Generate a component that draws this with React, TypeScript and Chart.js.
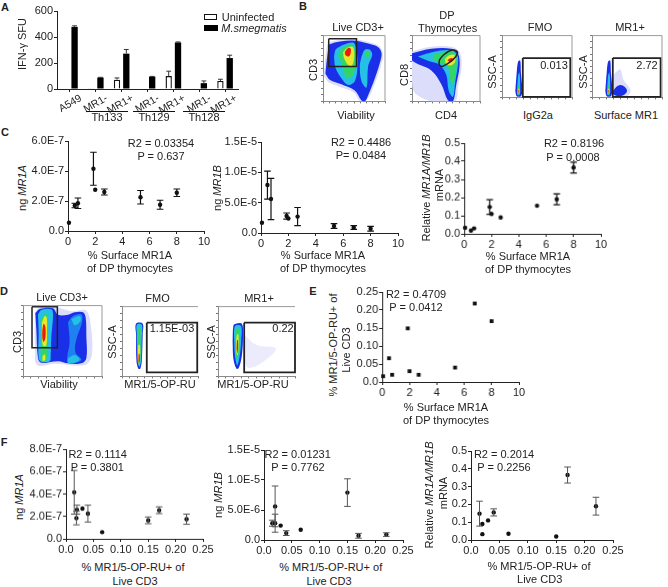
import React, { useEffect, useRef } from "react";
import { Chart, registerables } from "chart.js";

Chart.register(...registerables);

// ---------- Panel A ----------
const barCategories = ["A549", "MR1-", "MR1+", "MR1-", "MR1+", "MR1-", "MR1+"];
const uninfected = [0, 5, 72, 0, 100, 0, 62];
const uninfectedErr = [0, 0, 13, 0, 37, 0, 13];
const smegmatis = [478, 88, 272, 95, 358, 45, 238];
const smegmatisErr = [8, 2, 32, 2, 4, 17, 22];
const barTicks = [0, 200, 400, 600];

// ---------- Panel C ----------
const c1x = [0.07, 0.5, 0.73, 1.87, 2.0, 2.67, 5.33, 6.77, 8.0];
const c1y = [0.55e-7, 1.7e-7, 1.85e-7, 4.15e-7, 2.75e-7, 2.6e-7, 2.25e-7, 1.75e-7, 2.55e-7];
const c1e = [0, 0.15e-7, 0.35e-7, 1.1e-7, 0, 0.2e-7, 0.45e-7, 0.3e-7, 0.25e-7];
const c2x = [0.07, 0.47, 0.73, 1.87, 2.0, 2.67, 5.33, 6.77, 8.0];
const c2y = [1.7e-6, 7.9e-6, 5.6e-6, 2.8e-6, 2.4e-6, 2.7e-6, 1.15e-6, 0.9e-6, 0.7e-6];
const c2e = [0, 2.3e-6, 3.4e-6, 0.5e-6, 0, 1.5e-6, 0.4e-6, 0.3e-6, 0.4e-6];
const c3x = [0.07, 0.5, 0.73, 1.87, 2.0, 2.67, 5.33, 6.77, 8.0];
const c3y = [0.033, 0.018, 0.03, 0.148, 0.11, 0.09, 0.155, 0.19, 0.365];
const c3e = [0, 0, 0, 0.04, 0, 0, 0, 0.03, 0.03];

// ---------- Panel E ----------
const ex = [0.07, 0.5, 0.73, 1.87, 2.0, 2.67, 5.33, 6.77, 8.0];
const ey = [0.016, 0.066, 0.02, 0.149, 0.03, 0.02, 0.04, 0.218, 0.169];

// ---------- Panel F ----------
const f1x = [0.015, 0.02, 0.019, 0.03, 0.04, 0.066, 0.15, 0.17, 0.22];
const f1y = [4.15e-7, 2.6e-7, 1.85e-7, 2.7e-7, 2.25e-7, 0.6e-7, 1.65e-7, 2.55e-7, 1.75e-7];
const f1e = [1.95e-7, 0.4e-7, 0.6e-7, 0, 0.75e-7, 0, 0.3e-7, 0.3e-7, 0.45e-7];
const f2x = [0.015, 0.02, 0.02, 0.03, 0.04, 0.066, 0.15, 0.17, 0.22];
const f2y = [2.8e-6, 5.6e-6, 2.8e-6, 2.4e-6, 1.15e-6, 1.7e-6, 7.9e-6, 0.7e-6, 0.9e-6];
const f2e = [0.5e-6, 3.4e-6, 1.5e-6, 0, 0.4e-6, 0, 2.3e-6, 0.4e-6, 0.3e-6];
const f3x = [0.015, 0.02, 0.02, 0.03, 0.04, 0.066, 0.15, 0.17, 0.22];
const f3y = [0.148, 0.09, 0.033, 0.11, 0.155, 0.035, 0.02, 0.365, 0.19];
const f3e = [0.07, 0, 0, 0, 0.02, 0, 0, 0.045, 0.05];

// ---------- Tick values and labels ----------
const pctTicks = [0, 2, 4, 6, 8, 10];
const pctLabels = ["0", "2", "4", "6", "8", "10"];
const mr15Ticks = [0, 0.05, 0.1, 0.15, 0.2, 0.25];
const mr15Labels = ["0.0", "0.05", "0.10", "0.15", "0.20", "0.25"];
const yTicks6e7 = [0, 2e-7, 4e-7, 6e-7];
const yLabels6e7 = ["0.0", "2.0E-7", "4.0E-7", "6.0E-7"];
const yTicks8e7 = [0, 2e-7, 4e-7, 6e-7, 8e-7];
const yLabels8e7 = ["0.0", "2.0E-7", "4.0E-7", "6.0E-7", "8.0E-7"];
const yTicks15e5 = [0, 5e-6, 1e-5, 1.5e-5];
const yLabels15e5 = ["0.0", "5.0E-6", "1.0E-5", "1.5E-5"];
const yTicksRatio = [0, 0.1, 0.2, 0.3, 0.4, 0.5];
const yLabelsRatio = ["0.0", "0.1", "0.2", "0.3", "0.4", "0.5"];
const yTicksPct = [0, 0.05, 0.1, 0.15, 0.2, 0.25];
const yLabelsPct = ["0.0", "0.05", "0.10", "0.15", "0.20", "0.25"];

// ---------- Flow cytometry density contours, estimated in axis units (0-100) ----------
const PALE = "#dcdcfb", BLUE = "#1a30e8", MID = "#1f80f0", CYAN = "#25c0e6",
  GREEN = "#35d468", YELLOW = "#e6e828", RED = "#ea1c12";
type Pt = number[];
const b1Blue: Pt[] = [[3.8,42.3],[8.1,77.6],[10.8,87],[45.9,92.6],[72.9,87.9],[89.1,82.3],[94.5,72.9],[91.8,58.8],[83.7,35.3],[72.9,9.4],[67.5,0],[62.1,1.4],[51.3,16.5],[29.7,25.9],[10.8,32.9]];
const b1Pale: Pt[] = [[1,40],[6,82],[10,90],[46,95],[75,90],[91,84],[97,72],[94,56],[86,33],[75,8],[68,0],[60,0],[49,14],[28,22],[9,29]];
const b1CyanL: Pt[] = [[17.8,68.2],[21.6,79.9],[48.6,89.3],[54,77.6],[55.6,54],[51.3,30.6],[40.5,25],[29.7,35.3],[20,51.7]];
const b1CyanR: Pt[] = [[62.1,68.2],[67.5,78.5],[75.6,78.5],[79.4,70.5],[72.9,54],[70.2,21.2],[62.1,30.6],[59.4,54]];
const b1GreenL: Pt[] = [[24.3,70.5],[29.7,79.9],[45.9,86.9],[51.3,77.6],[52.4,58.8],[48.6,40],[37.8,35.3],[32.4,51.7]];
const b1GreenR: Pt[] = [[66.4,72.9],[71.8,77.6],[75.6,72.9],[71.8,65.8]];
const b1Yellow: Pt[] = [[32.4,75.2],[40.5,82.3],[48.6,82.3],[50.2,65.8],[45.9,53],[39.4,56.4],[34,65.8]];
const b1Red: Pt[] = [[35.1,75.2],[40.5,81.3],[44.8,79.9],[43.7,70.5],[40.5,68.2],[36.2,70.5]];
const b1Gate: Pt[] = [[9.2,95.4],[54,95.4],[54,53.1],[9.2,53.1]];

const b2Pale: Pt[] = [[0,76],[28,83],[58,83],[70,75],[73,54],[68,25],[63,0],[30,0],[5,12],[0,30]];
const b2Blue: Pt[] = [[0,73.3],[28.4,79.9],[57.8,79.9],[67.6,72.9],[70,54],[65.2,25.9],[60.3,0],[52.9,1.4],[43.1,25.9],[28.4,47],[0,62]];
const b2Cyan: Pt[] = [[8.8,68.2],[30.9,75.2],[57.8,77.6],[66.6,70.5],[67.6,56.4],[63.7,30.6],[60.3,7],[53.9,16.5],[50.5,40],[40.7,55.5],[23.5,61.6]];
const b2Green: Pt[] = [[30.9,70.5],[43.1,73.8],[60.3,75.2],[65.2,68.2],[65.2,49.4],[60.3,25.9],[55.4,35.3],[52.9,51.7],[40.7,58.8],[30.9,64.9]];
const b2Yellow: Pt[] = [[48,64.4],[55.4,70.5],[62.7,70.5],[63.7,61.1],[57.8,55],[50.5,56.4]];
const b2Red: Pt[] = [[51.9,62.7],[57.8,65.8],[60.8,63.5],[56.8,59.7]];
const b2Gate: Pt[] = [[39.7,56.4],[40.7,63.5],[48,72],[57.8,77.6],[65.2,76.7],[66.6,72],[60.3,63.5],[50.5,56.4],[43.1,53]];

const b3Blue: Pt[] = [[19,10],[21,40],[23,58],[26,60],[27,40],[29,12],[27,2],[21,2]];
const b3Cyan: Pt[] = [[21.5,8],[23,35],[25,40],[26,12],[25,4],[22,4]];
const b3Green: Pt[] = [[22,6],[23,20],[25,20],[25.5,8],[24,5]];
const b3Yellow: Pt[] = [[22.8,9],[23.5,14],[24.5,14],[24.8,9],[23.8,7]];
const b3Red: Pt[] = [[23.2,9],[23.7,12],[24.3,12],[24.4,9],[23.8,8]];
const b3Gate: Pt[] = [[29.7,63.7],[97.6,63.7],[97.6,0.8],[29.7,0.8]];

const b4Pale: Pt[] = [[30,5],[28,30],[40,45],[45,28],[55,12],[50,2]];
const b4Blob: Pt[] = [[29,8],[33,15],[40,20],[47,17],[50,10],[44,3],[33,3]];
const b4Gate: Pt[] = [[29.7,63.7],[98,63.7],[98,0.8],[29.7,0.8]];

const d1Pale: Pt[] = [[15,90],[20,97],[40,98],[62,92],[80,93],[86,70],[87,30],[78,16],[40,18],[18,16],[15,40]];
const d1Blue: Pt[] = [[15.6,89.6],[21.1,95.3],[38,96.2],[44.3,87],[57,87],[65.4,90.5],[76,90.5],[79.4,82.6],[80.2,56.4],[80.2,25.7],[73.9,18.4],[57,18.4],[44.3,21.4],[23.2,19.3],[19,25.7],[16.9,65.4]];
const d1CyanL: Pt[] = [[19,87.4],[23.2,93.7],[35.9,94.8],[38,87],[35.9,56.4],[35,30],[33.8,21.4],[23.2,20.6],[19.8,26.3],[19.8,61]];
const d1MidR: Pt[] = [[57,76.4],[63,85],[73.9,87.4],[74.7,76.4],[67.5,52.2],[66.2,34.6],[73.9,23.7],[67.5,19.3],[57,19.3],[56.1,28.1],[59,47.8]];
const d1CyanTop: Pt[] = [[61.2,80.9],[71.7,85.3],[73,78.7],[65.4,72.2]];
const d1CyanBot: Pt[] = [[57,25.9],[65.4,30.3],[71.7,23.7],[65.4,19.3],[57,19.3]];
const d1Green: Pt[] = [[22.4,78.6],[26.6,87.4],[30.8,87.4],[31.6,65.4],[30.8,43.5],[29.5,21.4],[24,21.4],[22.4,34.6],[23.2,56.4]];
const d1Yellow: Pt[] = [[24,76.5],[27.4,85],[30,83],[30.4,65.4],[29.5,43.5],[25.3,43.5],[24,56.4]];
const d1YellowBot: Pt[] = [[24.5,28],[27.4,31.2],[28.3,23.7],[25.3,21.5]];
const d1Red: Pt[] = [[24.5,65.4],[26.1,74.2],[28.3,69.8],[28.3,54.4],[26.1,48.7],[24.5,54.4]];
const d1Gate: Pt[] = [[11.4,98.3],[43.5,98.3],[43.5,40.4],[11.4,40.4]];

const d2Blue: Pt[] = [[18.5,60],[18.5,75.6],[27.2,75.6],[27.2,60],[26,22],[24,11],[21.5,11],[19,22]];
const d2Cyan: Pt[] = [[19.5,60],[19.5,74],[26,74],[26,55],[25,22],[23,14],[21,18],[20,30]];
const d2Green: Pt[] = [[20.5,50],[20.5,70],[24,70],[24.5,50],[24,22],[22,16],[21,25]];
const d2Yellow: Pt[] = [[21,27],[21.5,45],[23.5,45],[23.8,27],[22.5,18]];
const d2Red: Pt[] = [[21.7,22],[22,32],[23.2,32],[23.4,22],[22.5,19]];
const d2Gate: Pt[] = [[32.6,76.9],[99,76.9],[99,5.8],[32.6,5.8]];

const d3Pale: Pt[] = [[34,60],[50,45],[75,40],[60,22],[40,12],[34,25]];
const d3Blue: Pt[] = [[19,50],[20,73],[23,75.6],[31,75.6],[32.5,60],[31,30],[27,12],[24,11],[20,25]];
const d3Cyan: Pt[] = [[21,50],[22,72],[30,72],[30,50],[28,28],[25,16],[22,30]];
const d3Green: Pt[] = [[22.5,50],[23.5,68],[28,68],[28,45],[26.5,30],[24.5,25],[23,35]];
const d3Yellow: Pt[] = [[23.5,45],[24.5,60],[26.5,60],[26.5,42],[25.5,30],[24,33]];
const d3Red: Pt[] = [[24.2,40],[24.8,52],[25.8,52],[26,40],[25,33]];
const d3Gate: Pt[] = [[34,76.9],[100,76.9],[100,5.8],[34,5.8]];

const flowTicks = [0, 10, 20, 30, 40, 50, 60, 70, 80, 90, 100];

// ---------- Helpers ----------
const FONT = "'Liberation Sans', Arial, sans-serif";
const INK = "#222";

const errorBars = {
  id: "errorBars",
  afterDatasetsDraw(chart: any) {
    const ctx = chart.ctx;
    const y = chart.scales.y;
    chart.data.datasets.forEach((ds: any, i: number) => {
      if (!ds.errors) return;
      const meta = chart.getDatasetMeta(i);
      ctx.save();
      ctx.strokeStyle = ds.errColor || "#111";
      ctx.lineWidth = ds.errWidth || 1.2;
      ds.errors.forEach((e: number, j: number) => {
        if (!e) return;
        const el = meta.data[j];
        const raw = ds.data[j];
        const v = typeof raw === "number" ? raw : raw.y;
        const top = y.getPixelForValue(v + e);
        const bot = ds.upOnly ? y.getPixelForValue(v) : y.getPixelForValue(v - e);
        const cap = ds.capHalf || 3.3;
        ctx.beginPath();
        ctx.moveTo(el.x, top);
        ctx.lineTo(el.x, bot);
        ctx.moveTo(el.x - cap, top);
        ctx.lineTo(el.x + cap, top);
        if (!ds.upOnly) {
          ctx.moveTo(el.x - cap, bot);
          ctx.lineTo(el.x + cap, bot);
        }
        ctx.stroke();
      });
      ctx.restore();
    });
  },
};

const framePlugin = (openRight: boolean) => ({
  id: "flowFrame",
  afterDraw(chart: any) {
    const { ctx, chartArea: a } = chart;
    ctx.save();
    ctx.strokeStyle = "#9a9a9a";
    ctx.lineWidth = 1;
    ctx.beginPath();
    ctx.moveTo(a.left, a.top);
    ctx.lineTo(a.right, a.top);
    if (!openRight) ctx.lineTo(a.right, a.bottom);
    ctx.stroke();
    ctx.restore();
  },
});

type Box = { frame: number[]; ml?: number; mt?: number; mr?: number; mb?: number };

const boxOf = (b: Box) => {
  const ml = b.ml ?? 40, mt = b.mt ?? 10, mr = b.mr ?? 16, mb = b.mb ?? 20;
  const [L, T, R, B] = b.frame;
  return { ml, mt, mr, mb, left: L - ml, top: T - mt, width: R - L + ml + mr, height: B - T + mt + mb };
};

const axisBase = (values: number[], labels: string[] | null, min: number, max: number, side: "x" | "y", fit: number) => ({
  type: "linear",
  min,
  max,
  afterBuildTicks: (s: any) => {
    s.ticks = values.map((v) => ({ value: v }));
  },
  afterFit: (s: any) => {
    if (side === "x") s.height = fit;
    else s.width = fit;
  },
  grid: { display: true, drawOnChartArea: false, drawTicks: true, tickLength: 3, tickColor: INK, lineWidth: 1 },
  border: { display: true, color: INK, width: 1 },
  ticks: {
    autoSkip: false,
    padding: 1,
    maxRotation: 0,
    minRotation: 0,
    color: INK,
    font: { family: FONT, size: 11 },
    callback: (_v: any, i: number) => (labels ? labels[i] : ""),
  },
});

const scatterConfig = (b: Box, xs: number[], ys: number[], es: number[] | null, xV: number[], xL: string[], yV: number[], yL: string[], opts: any = {}) => {
  const m = boxOf(b);
  return {
    type: "scatter",
    data: {
      datasets: [
        {
          data: xs.map((x, i) => ({ x, y: ys[i] })),
          errors: es,
          backgroundColor: "#111",
          borderColor: "#111",
          pointBorderWidth: 0,
          pointRadius: opts.radius ?? 2.2,
          pointStyle: opts.style ?? "circle",
          errColor: opts.errColor,
          errWidth: opts.errWidth,
          capHalf: opts.capHalf,
          clip: false,
        },
      ],
    },
    options: {
      responsive: false,
      animation: false,
      layout: { padding: { left: 0, top: m.mt, right: m.mr, bottom: 0 } },
      plugins: { legend: { display: false }, tooltip: { enabled: false } },
      scales: {
        x: axisBase(xV, xL, xV[0], xV[xV.length - 1], "x", m.mb),
        y: axisBase(yV, yL, yV[0], yV[yV.length - 1], "y", m.ml),
      },
    },
    plugins: [errorBars],
  };
};

const fillLayer = (pts: Pt[], color: string, tension = 0.35) => ({
  data: [...pts, pts[0]].map(([x, y]) => ({ x, y })),
  backgroundColor: color,
  borderColor: color,
  borderWidth: 0,
  fill: "shape",
  tension,
  pointRadius: 0,
  clip: 0,
});

const gateLayer = (pts: Pt[], tension = 0, width = 1.5) => ({
  data: [...pts, pts[0]].map(([x, y]) => ({ x, y })),
  borderColor: "#222",
  borderWidth: width,
  fill: false,
  tension,
  pointRadius: 0,
  clip: false,
});

const flowConfig = (b: Box, layers: any[], openRight = false) => {
  const m = boxOf(b);
  const tick = (side: "x" | "y", fit: number) => {
    const a: any = axisBase(flowTicks, null, 0, 100, side, fit);
    a.grid.tickLength = 2;
    a.grid.tickColor = "#777";
    a.border.color = "#8a8a8a";
    return a;
  };
  return {
    type: "line",
    data: { datasets: [...layers].reverse() },
    options: {
      responsive: false,
      animation: false,
      layout: { padding: { left: 0, top: m.mt, right: m.mr, bottom: 0 } },
      plugins: { legend: { display: false }, tooltip: { enabled: false } },
      scales: { x: tick("x", m.mb), y: tick("y", m.ml) },
    },
    plugins: [framePlugin(openRight)],
  };
};

const sq = { ml: 8, mt: 4, mr: 4, mb: 6 };

const barBox: Box = { frame: [56.5, 11, 238, 89], ml: 36, mt: 8, mr: 8, mb: 30 };
const barM = boxOf(barBox);
const barAxisY: any = axisBase(barTicks, barTicks.map(String), 0, 600, "y", barM.ml);

const barConfig = {
  type: "bar",
  data: {
    labels: barCategories,
    datasets: [
      {
        label: "Uninfected",
        data: uninfected,
        errors: uninfectedErr,
        upOnly: true,
        capHalf: 2.4,
        errWidth: 1,
        errColor: "#333",
        backgroundColor: "#fff",
        borderColor: "#111",
        borderWidth: 1.4,
        barPercentage: 0.68,
        categoryPercentage: 0.72,
      },
      {
        label: "M.smegmatis",
        data: smegmatis,
        errors: smegmatisErr,
        upOnly: true,
        capHalf: 2.4,
        errWidth: 1,
        errColor: "#333",
        backgroundColor: "#000",
        borderColor: "#000",
        borderWidth: 0,
        barPercentage: 0.68,
        categoryPercentage: 0.72,
      },
    ],
  },
  options: {
    responsive: false,
    animation: false,
    layout: { padding: { left: 0, top: barM.mt, right: barM.mr, bottom: 0 } },
    plugins: { legend: { display: false }, tooltip: { enabled: false } },
    scales: {
      x: {
        type: "category",
        afterFit: (s: any) => {
          s.height = barM.mb;
        },
        grid: { display: true, drawOnChartArea: false, drawTicks: true, tickLength: 3, tickColor: INK, offset: false },
        border: { display: true, color: INK, width: 1 },
        ticks: { autoSkip: false, minRotation: 30, maxRotation: 30, padding: 0, labelOffset: 11, color: INK, font: { family: FONT, size: 10.5 } },
      },
      y: barAxisY,
    },
  },
  plugins: [errorBars],
};

const charts: { box: Box; cfg: any; blur?: boolean }[] = [];
const add = (box: Box, cfg: any, blur = false) => charts.push({ box, cfg, blur });

add(barBox, barConfig);

// B
const fb1: Box = { frame: [323, 32, 385, 103], ...sq };
add(fb1, flowConfig(fb1, [fillLayer(b1Pale, PALE), fillLayer(b1Blue, BLUE), fillLayer(b1CyanL, CYAN), fillLayer(b1CyanR, CYAN), fillLayer(b1GreenL, GREEN), fillLayer(b1GreenR, GREEN), fillLayer(b1Yellow, YELLOW), fillLayer(b1Red, RED), gateLayer(b1Gate)]), true);
const fb2: Box = { frame: [412, 32, 480, 103], ...sq };
add(fb2, flowConfig(fb2, [fillLayer(b2Pale, PALE), fillLayer(b2Blue, BLUE), fillLayer(b2Cyan, CYAN), fillLayer(b2Green, GREEN), fillLayer(b2Yellow, YELLOW), fillLayer(b2Red, RED), gateLayer(b2Gate, 0.45)]), true);
const fb3: Box = { frame: [502, 32, 572, 99], ...sq };
add(fb3, flowConfig(fb3, [fillLayer(b3Blue, BLUE), fillLayer(b3Cyan, CYAN), fillLayer(b3Green, GREEN), fillLayer(b3Yellow, YELLOW), fillLayer(b3Red, RED), gateLayer(b3Gate, 0, 1.8)]), true);
const fb4: Box = { frame: [592, 32, 662, 99], ...sq };
add(fb4, flowConfig(fb4, [fillLayer(b4Pale, PALE), fillLayer(b3Blue, BLUE), fillLayer(b4Blob, BLUE), fillLayer(b3Cyan, CYAN), fillLayer(b3Green, GREEN), fillLayer(b3Yellow, YELLOW), fillLayer(b3Red, RED), gateLayer(b4Gate, 0, 1.8)]), true);

// C
add({ frame: [68, 140.7, 204, 231] }, scatterConfig({ frame: [68, 140.7, 204, 231] }, c1x, c1y, c1e, pctTicks, pctLabels, yTicks6e7, yLabels6e7));
add({ frame: [260.7, 141.7, 398, 233] }, scatterConfig({ frame: [260.7, 141.7, 398, 233] }, c2x, c2y, c2e, pctTicks, pctLabels, yTicks15e5, yLabels15e5));
add({ frame: [464.3, 143.3, 601.3, 234], ml: 22 }, scatterConfig({ frame: [464.3, 143.3, 601.3, 234], ml: 22 }, c3x, c3y, c3e, pctTicks, pctLabels, yTicksRatio, yLabelsRatio));

// D
const fd1: Box = { frame: [23, 302, 102, 378], ...sq };
add(fd1, flowConfig(fd1, [fillLayer(d1Pale, PALE), fillLayer(d1Blue, BLUE), fillLayer(d1MidR, MID), fillLayer(d1CyanL, CYAN), fillLayer(d1CyanTop, CYAN), fillLayer(d1CyanBot, CYAN), fillLayer(d1Green, GREEN), fillLayer(d1Yellow, YELLOW), fillLayer(d1YellowBot, YELLOW), fillLayer(d1Red, RED), gateLayer(d1Gate)]), true);
const fd2: Box = { frame: [122, 303, 198, 378], ...sq };
add(fd2, flowConfig(fd2, [fillLayer(d2Blue, BLUE), fillLayer(d2Cyan, CYAN), fillLayer(d2Green, GREEN), fillLayer(d2Yellow, YELLOW), fillLayer(d2Red, RED), gateLayer(d2Gate, 0, 1.8)], true), true);
const fd3: Box = { frame: [218, 303, 295, 378], ...sq };
add(fd3, flowConfig(fd3, [fillLayer(d3Pale, "#ecebfc"), fillLayer(d3Blue, BLUE), fillLayer(d3Cyan, CYAN), fillLayer(d3Green, GREEN), fillLayer(d3Yellow, YELLOW), fillLayer(d3Red, RED), gateLayer(d3Gate, 0, 1.8)], true), true);

// E
const eBox: Box = { frame: [382.3, 292.3, 519, 382.3], ml: 30 };
add(eBox, scatterConfig(eBox, ex, ey, null, pctTicks, pctLabels, yTicksPct, yLabelsPct, { style: "rect", radius: 2.7 }));

// F
const greyErr = { errColor: "#555", errWidth: 1, capHalf: 3.3 };
const f1Box: Box = { frame: [65.7, 449.3, 203.3, 538.7] };
add(f1Box, scatterConfig(f1Box, f1x, f1y, f1e, mr15Ticks, mr15Labels, yTicks8e7, yLabels8e7, greyErr));
const f2Box: Box = { frame: [263.7, 450, 402.7, 540] };
add(f2Box, scatterConfig(f2Box, f2x, f2y, f2e, mr15Ticks, mr15Labels, yTicks15e5, yLabels15e5, greyErr));
const f3Box: Box = { frame: [471, 450.7, 613, 540.3], ml: 22 };
add(f3Box, scatterConfig(f3Box, f3x, f3y, f3e, mr15Ticks, mr15Labels, yTicksRatio, yLabelsRatio, greyErr));

// ---------- Text ----------
type Lab = { t: string; x: number; y: number; rot?: boolean; bold?: boolean; it?: boolean; pre?: string; post?: string };
const surfaceTitle = (x: number, y1: number, y2: number): Lab[] => [
  { t: "% Surface MR1A", x, y: y1 },
  { t: "of DP thymocytes", x, y: y2 },
];
const mr15Title = (x1: number, x2: number, y1: number, y2: number): Lab[] => [
  { t: "% MR1/5-OP-RU+ of", x: x1, y: y1 },
  { t: "Live CD3", x: x2, y: y2 },
];

const labels: Lab[] = [
  { t: "A", x: 5, y: 7, bold: true },
  { t: "B", x: 303, y: 6, bold: true },
  { t: "C", x: 5, y: 132, bold: true },
  { t: "D", x: 4, y: 291, bold: true },
  { t: "E", x: 313, y: 291, bold: true },
  { t: "F", x: 4, y: 442, bold: true },
  // A
  { t: "IFN-γ SFU", x: 22, y: 44, rot: true },
  { t: "Th133", x: 107, y: 117 },
  { t: "Th129", x: 154, y: 117 },
  { t: "Th128", x: 204, y: 117 },
  { t: "Uninfected", x: 248, y: 17 },
  { t: "M.smegmatis", x: 254, y: 28, it: true },
  // B
  { t: "Live CD3+", x: 358, y: 27 },
  { t: "DP", x: 447, y: 15 },
  { t: "Thymocytes", x: 447.6, y: 28 },
  { t: "FMO", x: 540, y: 27 },
  { t: "MR1+", x: 630, y: 27 },
  { t: "Viability", x: 356, y: 115 },
  { t: "CD4", x: 446, y: 115 },
  { t: "IgG2a", x: 538, y: 115 },
  { t: "Surface MR1", x: 626, y: 115 },
  { t: "CD3", x: 313, y: 70, rot: true },
  { t: "CD8", x: 404, y: 75, rot: true },
  { t: "SSC-A", x: 492, y: 72, rot: true },
  { t: "SSC-A", x: 583, y: 72, rot: true },
  { t: "0.013", x: 554, y: 65 },
  { t: "2.72", x: 647, y: 65 },
  // C
  { t: "MR1A", pre: "ng ", x: 22, y: 188, rot: true, it: true },
  { t: "R2 = 0.03354", x: 161, y: 143 },
  { t: "P = 0.637", x: 161, y: 156 },
  ...surfaceTitle(130, 255, 268),
  { t: "MR1B", pre: "ng ", x: 217, y: 188, rot: true, it: true },
  { t: "R2 = 0.4486", x: 361, y: 142 },
  { t: "P= 0.0484", x: 361, y: 155 },
  ...surfaceTitle(323, 255, 268),
  { t: "MR1A/MR1B", pre: "Relative ", x: 425.7, y: 188, rot: true, it: true },
  { t: "mRNA", x: 439, y: 185, rot: true },
  { t: "R2 = 0.8196", x: 574, y: 143 },
  { t: "P = 0.0008", x: 573, y: 157 },
  ...surfaceTitle(528, 256, 269),
  // D
  { t: "Live CD3+", x: 62, y: 297 },
  { t: "FMO", x: 157.5, y: 298 },
  { t: "MR1+", x: 259, y: 298 },
  { t: "Viability", x: 59, y: 384 },
  { t: "MR1/5-OP-RU", x: 160, y: 384 },
  { t: "MR1/5-OP-RU", x: 253, y: 384 },
  { t: "CD3", x: 17, y: 342, rot: true },
  { t: "SSC-A", x: 112, y: 342, rot: true },
  { t: "SSC-A", x: 211, y: 342, rot: true },
  { t: "1.15E-03", x: 172, y: 328 },
  { t: "0.22", x: 283, y: 328 },
  // E
  { t: "% MR1/5-OP-RU+ of", x: 333, y: 345, rot: true },
  { t: "Live CD3", x: 345.6, y: 350, rot: true },
  { t: "R2 = 0.4709", x: 416, y: 294.3 },
  { t: "P = 0.0412", x: 416, y: 307 },
  ...surfaceTitle(446, 407, 420),
  // F
  { t: "MR1A", pre: "ng ", x: 19, y: 496.7, rot: true, it: true },
  { t: "R2 = 0.1114", x: 97.7, y: 454 },
  { t: "P = 0.3801", x: 97.3, y: 466.7 },
  ...mr15Title(133, 135, 567, 580.7),
  { t: "MR1B", pre: "ng ", x: 218, y: 495, rot: true, it: true },
  { t: "R2 = 0.01231", x: 297.7, y: 454 },
  { t: "P = 0.7762", x: 298, y: 466.7 },
  ...mr15Title(330.7, 329, 567, 581),
  { t: "MR1A/MR1B", pre: "Relative ", x: 429, y: 495, rot: true, it: true },
  { t: "mRNA", x: 442.7, y: 493, rot: true },
  { t: "R2 = 0.2014", x: 504, y: 453.7 },
  { t: "P = 0.2256", x: 504, y: 466.7 },
  ...mr15Title(539, 539.7, 566, 579),
];

const groupLines = [
  [86, 128],
  [133, 175],
  [183, 225],
];

export default function App() {
  const refs = useRef<(HTMLCanvasElement | null)[]>([]);
  useEffect(() => {
    const made = charts.map((c, i) => new Chart(refs.current[i] as any, c.cfg));
    return () => made.forEach((m) => m.destroy());
  }, []);
  return (
    <div style={{ position: "absolute", left: 0, top: 0, width: 668, height: 587, overflow: "hidden", background: "#fff", fontFamily: FONT, fontSize: 11, color: INK }}>
      {charts.map((c, i) => {
        const m = boxOf(c.box);
        return (
          <canvas
            key={i}
            ref={(el) => {
              refs.current[i] = el;
            }}
            width={m.width}
            height={m.height}
            style={{ position: "absolute", left: m.left, top: m.top, width: m.width, height: m.height, filter: c.blur ? "blur(0.5px)" : undefined }}
          />
        );
      })}
      {groupLines.map(([a, b], i) => (
        <div key={i} style={{ position: "absolute", left: a, top: 110.5, width: b - a, height: 1, background: "#111" }} />
      ))}
      <div style={{ position: "absolute", left: 204, top: 14, width: 11, height: 3.5, border: "1.3px solid #111", background: "#fff" }} />
      <div style={{ position: "absolute", left: 204, top: 24.5, width: 13.5, height: 6, background: "#000" }} />
      {labels.map((l, i) => (
        <span
          key={i}
          style={{
            position: "absolute",
            left: l.x,
            top: l.y,
            whiteSpace: "pre",
            lineHeight: 1,
            fontWeight: l.bold ? 700 : 400,
            transform: `translate(-50%,-50%)${l.rot ? " rotate(-90deg)" : ""}`,
          }}
        >
          {l.pre}
          {l.it ? <i>{l.t}</i> : l.t}
        </span>
      ))}
    </div>
  );
}
